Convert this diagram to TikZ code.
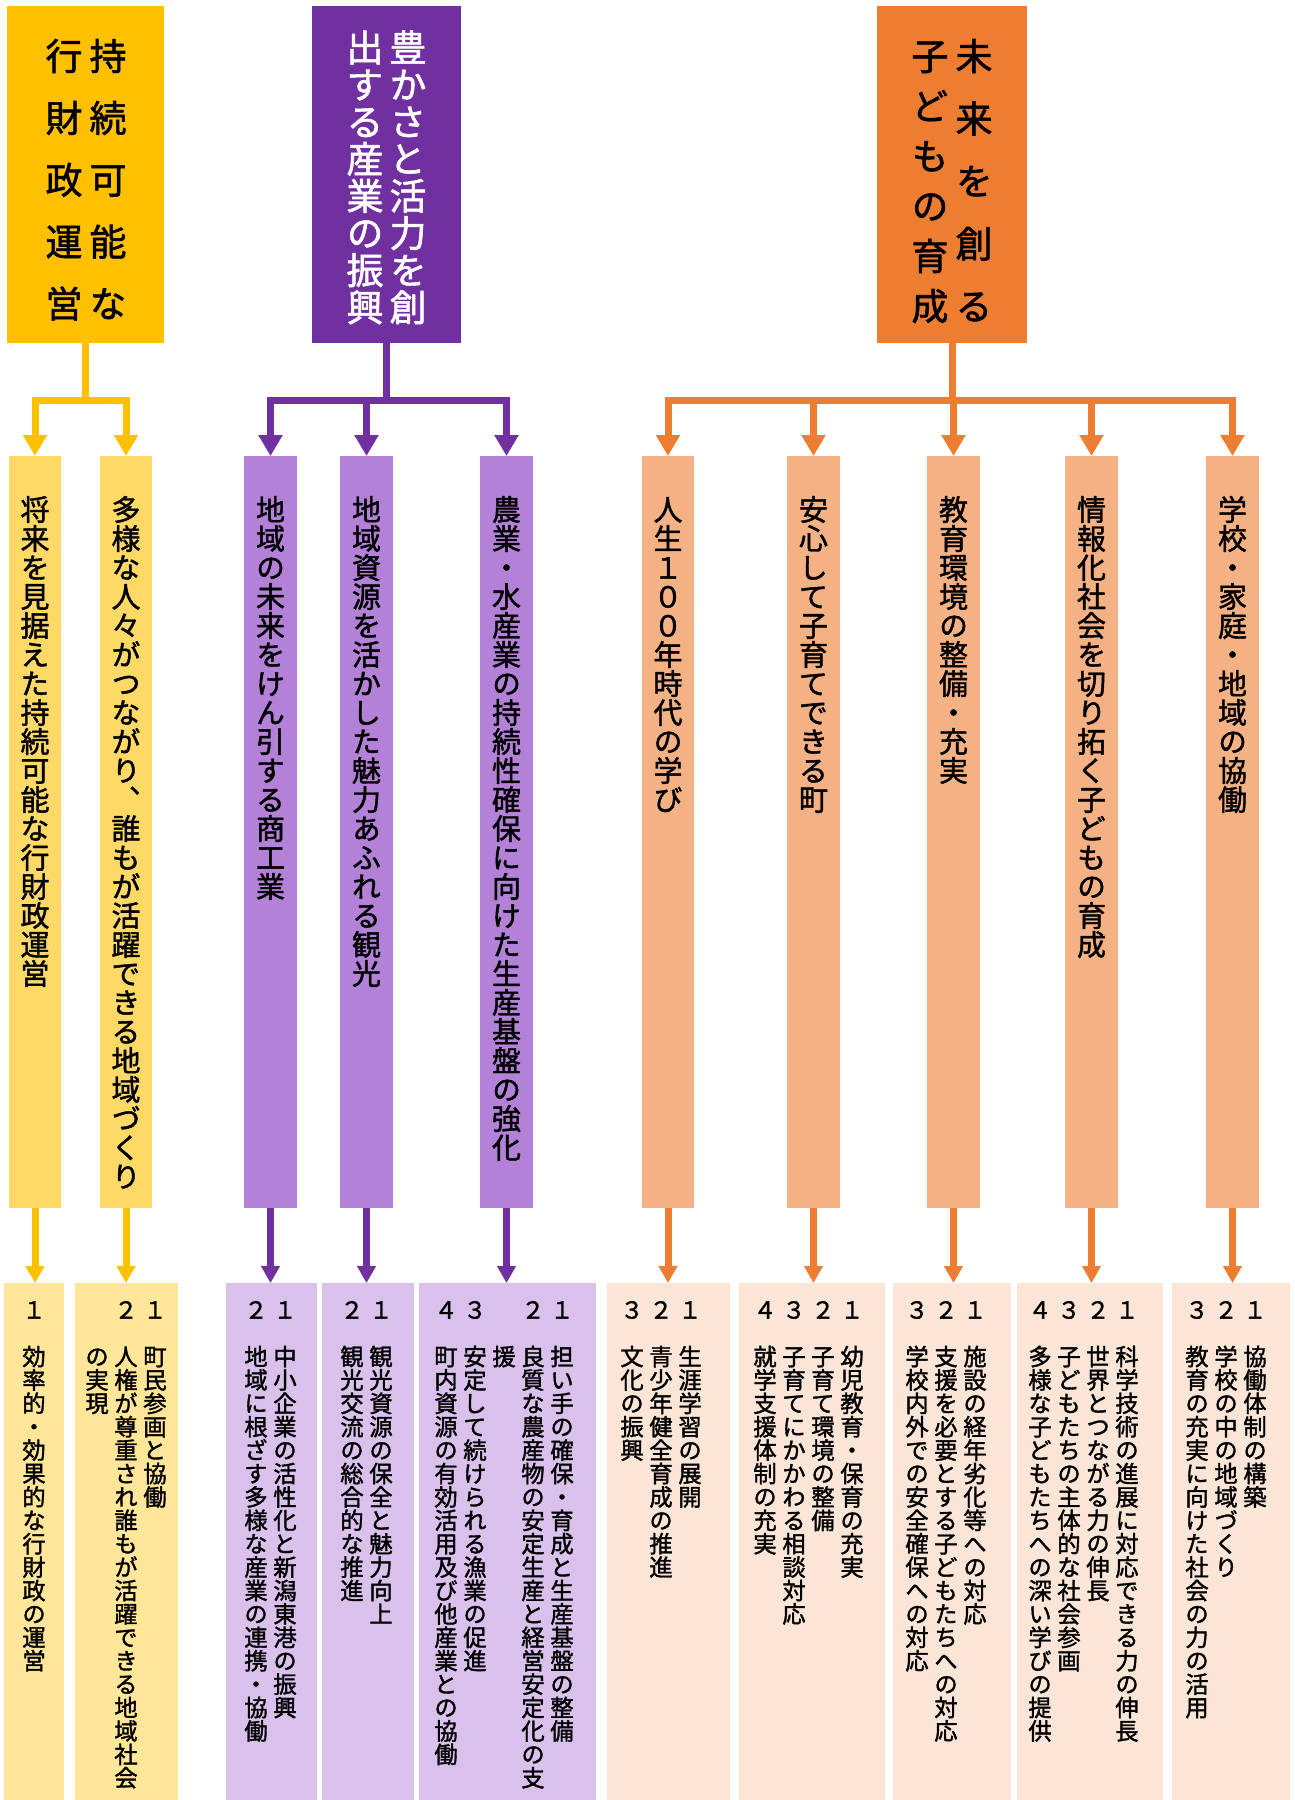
\documentclass[tikz,border=0pt]{standalone}
\usepackage{fontspec}
\setmainfont{Noto Sans CJK JP}[RawFeature=+vert,FakeBold=1.5]
\usetikzlibrary{arrows.meta,fit}
\ExplSyntaxOn
\dim_new:N \l_tc_gap_dim
\bool_new:N \l_tc_first_bool
\NewDocumentCommand \tcol { O{0pt} m }
  {
    \vbox:n
      {
        \offinterlineskip
        \dim_set:Nn \l_tc_gap_dim {#1}
        \bool_set_true:N \l_tc_first_bool
        \tl_map_inline:nn {#2}
          {
            \bool_if:NTF \l_tc_first_bool
              { \bool_set_false:N \l_tc_first_bool }
              { \skip_vertical:n { \l_tc_gap_dim } }
            \hbox_to_wd:nn {1em}
              { \vrule~height~.88em~depth~.12em~width~0pt \hss \smash{##1} \hss }
          }
      }
  }
\ExplSyntaxOff
\definecolor{cY}{HTML}{FFC000}
\definecolor{cP}{HTML}{7030A0}
\definecolor{cO}{HTML}{ED7D31}
\definecolor{mY}{HTML}{FFD966}
\definecolor{mP}{HTML}{B381D8}
\definecolor{mO}{HTML}{F4B183}
\definecolor{bY}{HTML}{FFE699}
\definecolor{bP}{HTML}{D9C1EC}
\definecolor{bO}{HTML}{FBE5D6}
\newcommand\fhead{\fontsize{37}{37}\selectfont}
\newcommand\fmid{\fontsize{29}{29}\selectfont}
\newcommand\fbot{\fontsize{23.4}{23.4}\selectfont}
\begin{document}
\begin{tikzpicture}[x=1pt,y=-1pt,
  every node/.style={inner sep=0pt,outer sep=0pt},
  box/.style={fill=#1,draw=none,inner sep=0pt},
  htext/.style={anchor=north,font=\fhead},
  mtext/.style={anchor=north,font=\fmid},
  btext/.style={anchor=north,font=\fbot},
  conn/.style={draw=#1,line width=7pt},
  uarr/.style={-{Triangle[width=23pt,length=21pt]}},
  larr/.style={-{Triangle[width=18pt,length=17pt]}}]
\fill[white] (0,0) rectangle (1295,1800);
\useasboundingbox (0,0) rectangle (1295,1800);
% ---------- top boxes
\node[box=cY,fit={(7,6)(164,343)}] (T1) {};
\node[box=cP,fit={(312,6)(461,343)}] (T2) {};
\node[box=cO,fit={(877,6)(1027,343)}] (T3) {};
\node[htext] (T1r) at (108,37.5) {\tcol[24.9pt]{持続可能な}};
\node[htext] (T1l) at (64,37.5) {\tcol[24.9pt]{行財政運営}};
\node[htext,text=white] (T2r) at (408,29) {\tcol[0.1pt]{豊かさと活力を創}};
\node[htext,text=white] (T2l) at (365,29) {\tcol[0.1pt]{出する産業の振興}};
\node[htext] (T3r) at (974,37.5) {\tcol[25.5pt]{未来を創る}};
\node[htext] (T3l) at (930,37.5) {\tcol[13pt]{子どもの育成}};
% ---------- middle boxes
\node[box=mY,fit={(9,456)(61,1208)}] (M1) {};
\node[box=mY,fit={(100,456)(152,1208)}] (M2) {};
\node[box=mP,fit={(244,456)(297,1208)}] (M3) {};
\node[box=mP,fit={(340,456)(393,1208)}] (M4) {};
\node[box=mP,fit={(480,456)(533,1208)}] (M5) {};
\node[box=mO,fit={(642,456)(694,1208)}] (M6) {};
\node[box=mO,fit={(787,456)(840,1208)}] (M7) {};
\node[box=mO,fit={(927,456)(980,1208)}] (M8) {};
\node[box=mO,fit={(1065,456)(1118,1208)}] (M9) {};
\node[box=mO,fit={(1206,456)(1259,1208)}] (M10) {};
\node[mtext] (M1t) at ([yshift=-39pt]M1.north) {\tcol{将来を見据えた持続可能な行財政運営}};
\node[mtext] (M2t) at ([yshift=-39pt]M2.north) {\tcol{多様な人々がつながり、誰もが活躍できる地域づくり}};
\node[mtext] (M3t) at ([yshift=-39pt]M3.north) {\tcol{地域の未来をけん引する商工業}};
\node[mtext] (M4t) at ([yshift=-39pt]M4.north) {\tcol{地域資源を活かした魅力あふれる観光}};
\node[mtext] (M5t) at ([yshift=-39pt]M5.north) {\tcol{農業・水産業の持続性確保に向けた生産基盤の強化}};
\node[mtext] (M6t) at ([yshift=-39pt]M6.north) {\tcol{人生１００年時代の学び}};
\node[mtext] (M7t) at ([yshift=-39pt]M7.north) {\tcol{安心して子育てできる町}};
\node[mtext] (M8t) at ([yshift=-39pt]M8.north) {\tcol{教育環境の整備・充実}};
\node[mtext] (M9t) at ([yshift=-39pt]M9.north) {\tcol{情報化社会を切り拓く子どもの育成}};
\node[mtext] (M10t) at ([yshift=-39pt]M10.north) {\tcol{学校・家庭・地域の協働}};
% ---------- bottom boxes
\node[box=bY,fit={(4,1283)(64,1800)}] (B1) {};
\node[box=bY,fit={(75,1283)(178,1800)}] (B2) {};
\node[box=bP,fit={(226,1283)(317,1800)}] (B3) {};
\node[box=bP,fit={(322,1283)(414,1800)}] (B4) {};
\node[box=bP,fit={(419,1283)(596,1800)}] (B5) {};
\node[box=bO,fit={(607,1283)(730,1800)}] (B6) {};
\node[box=bO,fit={(739,1283)(885,1800)}] (B7) {};
\node[box=bO,fit={(893,1283)(1011,1800)}] (B8) {};
\node[box=bO,fit={(1017,1283)(1163,1800)}] (B9) {};
\node[box=bO,fit={(1172,1283)(1290,1800)}] (B10) {};
% texts
\node[btext] (b1a) at (34,1298) {\tcol{１　効率的・効果的な行財政の運営}};
\node[btext] (b2a) at (155,1298) {\tcol{１　町民参画と協働}};
\node[btext] (b2b) at (126,1298) {\tcol{２　人権が尊重され誰もが活躍できる地域社会}};
\node[btext] (b2c) at (97,1298) {\tcol{　　の実現}};
\node[btext] (b3a) at (285,1298) {\tcol{１　中小企業の活性化と新潟東港の振興}};
\node[btext] (b3b) at (256,1298) {\tcol{２　地域に根ざす多様な産業の連携・協働}};
\node[btext] (b4a) at (381,1298) {\tcol{１　観光資源の保全と魅力向上}};
\node[btext] (b4b) at (352,1298) {\tcol{２　観光交流の総合的な推進}};
\node[btext] (b5a) at (562,1298) {\tcol{１　担い手の確保・育成と生産基盤の整備}};
\node[btext] (b5b) at (533,1298) {\tcol{２　良質な農産物の安定生産と経営安定化の支}};
\node[btext] (b5c) at (504,1298) {\tcol{　　援}};
\node[btext] (b5d) at (475,1298) {\tcol{３　安定して続けられる漁業の促進}};
\node[btext] (b5e) at (446,1298) {\tcol{４　町内資源の有効活用及び他産業との協働}};
\node[btext] (b6a) at (690,1298) {\tcol{１　生涯学習の展開}};
\node[btext] (b6b) at (661,1298) {\tcol{２　青少年健全育成の推進}};
\node[btext] (b6c) at (632,1298) {\tcol{３　文化の振興}};
\node[btext] (b7a) at (852,1298) {\tcol{１　幼児教育・保育の充実}};
\node[btext] (b7b) at (823,1298) {\tcol{２　子育て環境の整備}};
\node[btext] (b7c) at (794,1298) {\tcol{３　子育てにかかわる相談対応}};
\node[btext] (b7d) at (765,1298) {\tcol{４　就学支援体制の充実}};
\node[btext] (b8a) at (975,1298) {\tcol{１　施設の経年劣化等への対応}};
\node[btext] (b8b) at (946,1298) {\tcol{２　支援を必要とする子どもたちへの対応}};
\node[btext] (b8c) at (917,1298) {\tcol{３　学校内外での安全確保への対応}};
\node[btext] (b9a) at (1127,1298) {\tcol{１　科学技術の進展に対応できる力の伸長}};
\node[btext] (b9b) at (1098,1298) {\tcol{２　世界とつながる力の伸長}};
\node[btext] (b9c) at (1069,1298) {\tcol{３　子どもたちの主体的な社会参画}};
\node[btext] (b9d) at (1040,1298) {\tcol{４　多様な子どもたちへの深い学びの提供}};
\node[btext] (b10a) at (1255,1298) {\tcol{１　協働体制の構築}};
\node[btext] (b10b) at (1226,1298) {\tcol{２　学校の中の地域づくり}};
\node[btext] (b10c) at (1197,1298) {\tcol{３　教育の充実に向けた社会の力の活用}};
% ---------- upper connectors
\coordinate (jY) at (T1.south |- 0,400.5);
\coordinate (jP) at (T2.south |- 0,400.5);
\coordinate (jO) at (T3.south |- 0,400.5);
\draw[conn=cY] (T1.south) -- (jY);
\draw[conn=cY,uarr] (jY) -| (M1.north);
\draw[conn=cY,uarr] (jY) -| (M2.north);
\draw[conn=cP] (T2.south) -- (jP);
\draw[conn=cP,uarr] (jP) -| (M3.north);
\draw[conn=cP,uarr] (jP) -| (M4.north);
\draw[conn=cP,uarr] (jP) -| (M5.north);
\draw[conn=cO] (T3.south) -- (jO);
\draw[conn=cO,uarr] (jO) -| (M6.north);
\draw[conn=cO,uarr] (jO) -| (M7.north);
\draw[conn=cO,uarr] (jO) -| (M8.north);
\draw[conn=cO,uarr] (jO) -| (M9.north);
\draw[conn=cO,uarr] (jO) -| (M10.north);
% ---------- lower connectors
\draw[conn=cY,larr] (M1.south) -- (M1.south |- B1.north);
\draw[conn=cY,larr] (M2.south) -- (M2.south |- B2.north);
\draw[conn=cP,larr] (M3.south) -- (M3.south |- B3.north);
\draw[conn=cP,larr] (M4.south) -- (M4.south |- B4.north);
\draw[conn=cP,larr] (M5.south) -- (M5.south |- B5.north);
\draw[conn=cO,larr] (M6.south) -- (M6.south |- B6.north);
\draw[conn=cO,larr] (M7.south) -- (M7.south |- B7.north);
\draw[conn=cO,larr] (M8.south) -- (M8.south |- B8.north);
\draw[conn=cO,larr] (M9.south) -- (M9.south |- B9.north);
\draw[conn=cO,larr] (M10.south) -- (M10.south |- B10.north);
\end{tikzpicture}
\end{document}
